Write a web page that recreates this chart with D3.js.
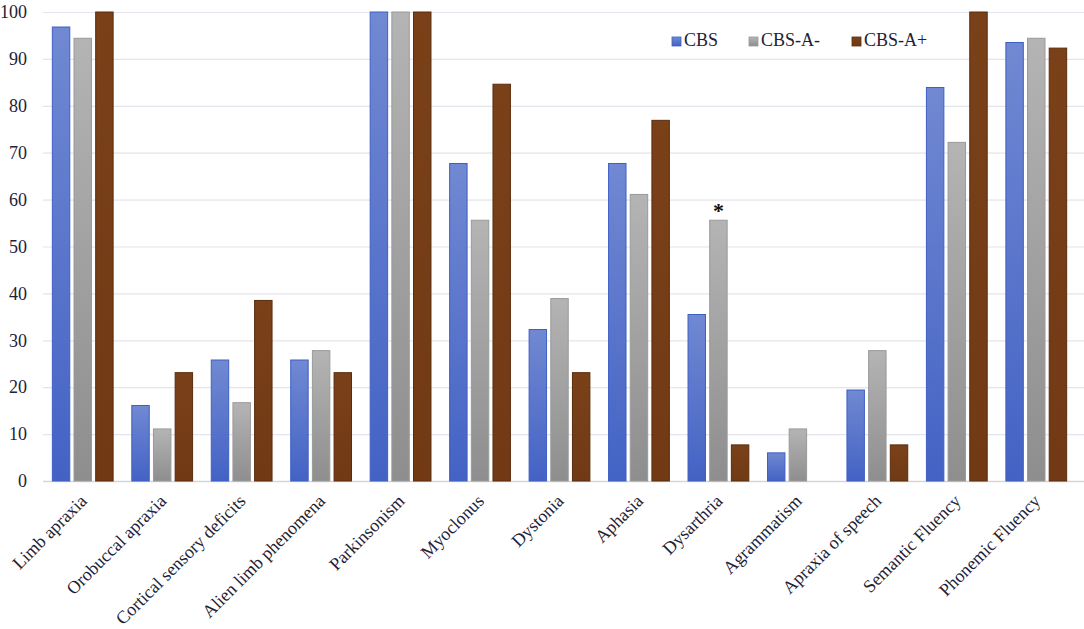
<!DOCTYPE html>
<html>
<head>
<meta charset="utf-8">
<script src="https://cdn.jsdelivr.net/npm/d3@7"></script>
<style>
  body { margin: 0; background: #fff; }
  svg text { font-family: "Times New Roman", "Liberation Serif", Times, "DejaVu Serif", serif; fill: #1e2236; }
</style>
</head>
<body>
<div id="chart"></div>
<script>
// Chart data
const categories = ['Limb apraxia', 'Orobuccal apraxia', 'Cortical sensory deficits', 'Alien limb phenomena',
  'Parkinsonism', 'Myoclonus', 'Dystonia', 'Aphasia', 'Dysarthria', 'Agrammatism',
  'Apraxia of speech', 'Semantic Fluency', 'Phonemic Fluency'];
const seriesNames = ['CBS', 'CBS-A-', 'CBS-A+'];
const cbs    = [96.8, 16.1, 25.8, 25.8, 100, 67.7, 32.3, 67.7, 35.5, 6.0, 19.4, 83.9, 93.5];
const cbsAneg = [94.4, 11.1, 16.7, 27.8, 100, 55.6, 38.9, 61.1, 55.6, 11.1, 27.8, 72.2, 94.4];
const cbsApos = [100, 23.1, 38.5, 23.1, 100, 84.6, 23.1, 76.9, 7.7, 0, 7.7, 100, 92.3];
const yTicks = [0, 10, 20, 30, 40, 50, 60, 70, 80, 90, 100];
const starred = [{category: 'Dysarthria', series: 'CBS-A-'}];

const values = [cbs, cbsAneg, cbsApos];
const data = categories.map((c, i) => ({
  category: c,
  bars: seriesNames.map((s, j) => ({series: s, value: values[j][i]}))
}));

const W = 1084, H = 629;
const margin = {top: 12, right: 4, bottom: 148, left: 43};
const width = W - margin.left - margin.right,
  height = H - margin.top - margin.bottom;
const serif = '"Times New Roman", "Liberation Serif", Times, "DejaVu Serif", serif';

const svg = d3.select('#chart').append('svg')
  .attr('width', W)
  .attr('height', H);

// gradients for bars
const defs = svg.append('defs');
const grads = [
  {id: 'g0', top: '#7189d2', bottom: '#4362c4'},
  {id: 'g1', top: '#b4b4b4', bottom: '#8e8e8e'},
  {id: 'g2', top: '#7a4119', bottom: '#713a15'}
];
grads.forEach(g => {
  const lg = defs.append('linearGradient')
    .attr('id', g.id).attr('x1', 0).attr('y1', 0).attr('x2', 0).attr('y2', 1);
  lg.append('stop').attr('offset', '0%').attr('stop-color', g.top);
  lg.append('stop').attr('offset', '100%').attr('stop-color', g.bottom);
});
const strokes = ['#3d5fc6', '#9a9a9a', '#5a2c0c'];

const g = svg.append('g')
  .attr('transform', `translate(${margin.left}, ${margin.top})`);

const yScale = d3.scaleLinear().domain([0, 100]).range([height, 0]);

const x0 = d3.scaleBand()
  .domain(categories)
  .range([0, width - 4])
  .paddingInner(0.235)
  .paddingOuter(0.1175);

const x1 = d3.scaleBand()
  .domain(seriesNames)
  .range([0, x0.bandwidth()])
  .paddingInner(0.195);

const color = d3.scaleOrdinal().domain(seriesNames).range(['url(#g0)', 'url(#g1)', 'url(#g2)']);
const stroke = d3.scaleOrdinal().domain(seriesNames).range(strokes);

// gridlines
const yAxis = d3.axisLeft(yScale)
  .tickValues(yTicks)
  .tickSize(-(W - margin.left))
  .tickFormat(d3.format('d'));

const yAxisGroup = g.append('g')
  .attr('class', 'axis y-axis')
  .call(yAxis)
  .attr('font-family', serif);
yAxisGroup.select('.domain').remove();
yAxisGroup.selectAll('.tick line')
  .attr('stroke', d => d === 0 ? '#d6d6d6' : '#e4e4ec')
  .attr('stroke-width', d => d === 0 ? 1.5 : 1.2);
yAxisGroup.selectAll('.tick text')
  .attr('x', -16)
  .attr('font-size', 18)
  .attr('fill', '#1e2236');

// bars
const groups = g.selectAll('.group')
  .data(data)
  .enter()
  .append('g')
  .attr('class', 'group')
  .attr('transform', d => `translate(${x0(d.category)}, 0)`);

groups.selectAll('rect')
  .data(d => d.bars.filter(b => b.value > 0))
  .enter()
  .append('rect')
  .attr('x', d => x1(d.series))
  .attr('y', d => yScale(d.value))
  .attr('width', x1.bandwidth())
  .attr('height', d => height - yScale(d.value))
  .attr('fill', d => color(d.series))
  .attr('stroke', d => stroke(d.series))
  .attr('stroke-width', 1);

// significance marker
starred.forEach(s => {
  const v = values[seriesNames.indexOf(s.series)][categories.indexOf(s.category)];
  g.append('text')
    .attr('x', x0(s.category) + x1(s.series) + x1.bandwidth() / 2)
    .attr('y', yScale(v) - 2)
    .attr('text-anchor', 'middle')
    .attr('font-size', 22)
    .attr('font-weight', 'bold')
    .style('fill', '#111')
    .text('*');
});

// x labels, rotated
const xAxis = d3.axisBottom(x0).tickSize(0);
const xAxisGroup = g.append('g')
  .attr('class', 'axis x-axis')
  .attr('transform', `translate(0, ${height})`)
  .call(xAxis)
  .attr('font-family', serif);
xAxisGroup.select('.domain').remove();
xAxisGroup.selectAll('.tick text')
  .attr('font-size', 18)
  .attr('fill', '#1e2236')
  .attr('text-anchor', 'end')
  .attr('dy', 0)
  .attr('transform', 'translate(3, 19) rotate(-45)');

// legend
const legendX = [672, 749, 852];
const legend = svg.append('g').attr('class', 'legend');
seriesNames.forEach((s, i) => {
  legend.append('rect')
    .attr('x', legendX[i]).attr('y', 37)
    .attr('width', 9).attr('height', 9)
    .attr('fill', color(s))
    .attr('stroke', stroke(s)).attr('stroke-width', 0.8);
  legend.append('text')
    .attr('x', legendX[i] + 12).attr('y', 46)
    .attr('font-size', 18)
    .text(s);
});
</script>
</body>
</html>
